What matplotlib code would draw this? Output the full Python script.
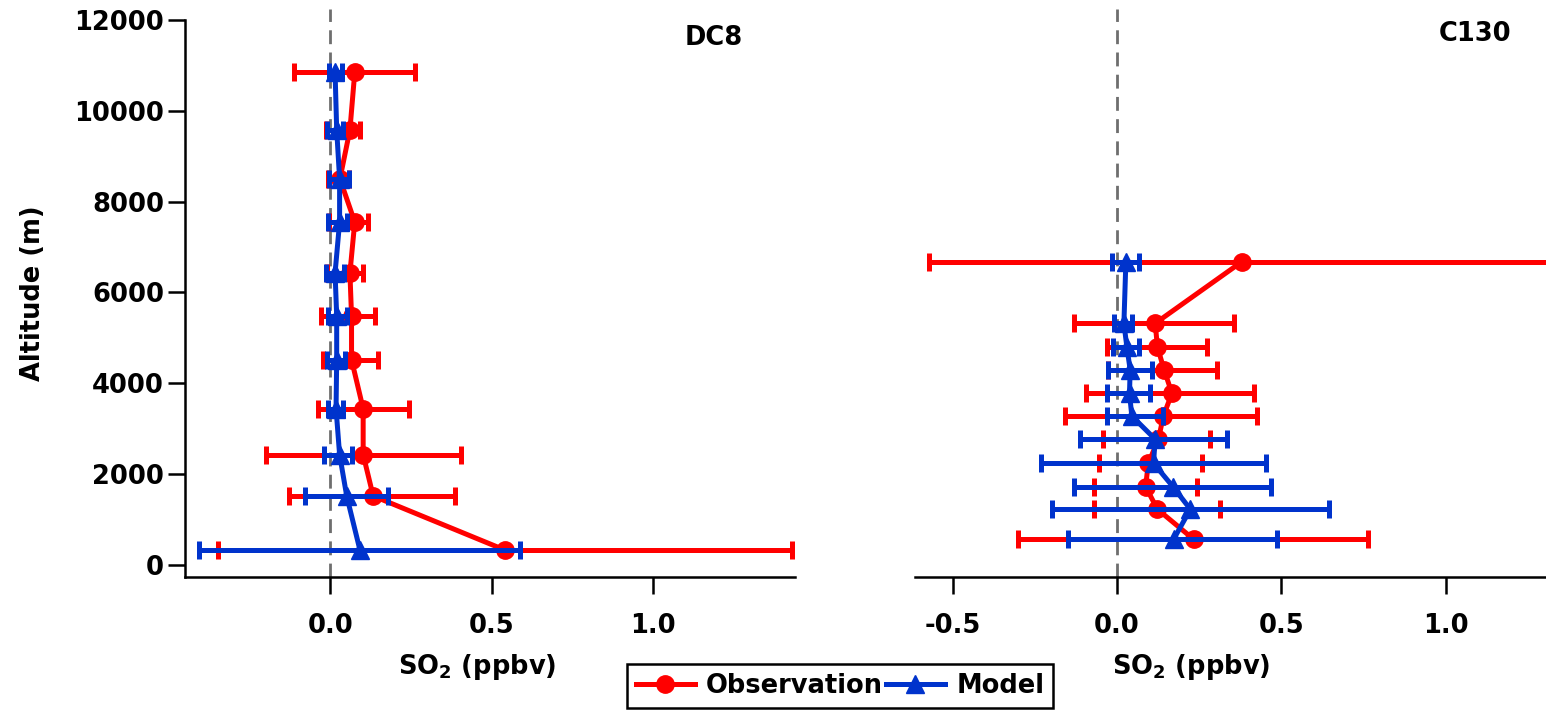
import numpy as np
import matplotlib
matplotlib.use("Agg")
import matplotlib.pyplot as plt

# --- Data -----------------------------------------------------------------

# DC8 profile
dc8_alt = [10850, 9580, 8500, 7550, 6430, 5480, 4520, 3440, 2430, 1520, 330]
dc8_obs = [0.076, 0.061, 0.030, 0.076, 0.061, 0.066, 0.066, 0.102, 0.102, 0.133, 0.541]
dc8_obs_lo = [-0.112, -0.013, -0.006, -0.005, -0.010, -0.030, -0.022, -0.039, -0.200, -0.127, -0.349]
dc8_obs_hi = [0.263, 0.092, 0.058, 0.117, 0.100, 0.138, 0.148, 0.243, 0.405, 0.387, 1.432]
dc8_mod = [0.015, 0.020, 0.029, 0.029, 0.015, 0.020, 0.020, 0.018, 0.029, 0.051, 0.092]
dc8_mod_lo = [-0.003, -0.010, -0.005, -0.007, -0.013, -0.007, -0.010, -0.007, -0.018, -0.078, -0.406]
dc8_mod_hi = [0.036, 0.041, 0.058, 0.051, 0.044, 0.051, 0.046, 0.041, 0.066, 0.180, 0.587]

# C130 profile
c130_alt = [6680, 5320, 4800, 4300, 3780, 3280, 2770, 2240, 1725, 1227, 566]
c130_obs = [0.380, 0.116, 0.123, 0.143, 0.167, 0.141, 0.126, 0.095, 0.087, 0.123, 0.233]
c130_obs_lo = [-0.570, -0.130, -0.031, -0.026, -0.093, -0.159, -0.044, -0.054, -0.069, -0.069, -0.301]
c130_obs_hi = [1.600, 0.355, 0.273, 0.304, 0.416, 0.427, 0.284, 0.258, 0.243, 0.314, 0.762]
c130_mod = [0.027, 0.021, 0.030, 0.040, 0.038, 0.045, 0.116, 0.111, 0.170, 0.223, 0.172]
c130_mod_lo = [-0.016, -0.009, -0.011, -0.026, -0.031, -0.031, -0.113, -0.230, -0.131, -0.199, -0.148]
c130_mod_hi = [0.068, 0.047, 0.068, 0.105, 0.100, 0.141, 0.334, 0.453, 0.468, 0.645, 0.487]

alt_ticks = [0, 2000, 4000, 6000, 8000, 10000, 12000]

# --- Style ----------------------------------------------------------------

RED = "#ff0000"
BLUE = "#0033cc"
LW = 3.6

plt.rcParams["font.family"] = ["DejaVu Sans"]
plt.rcParams["font.weight"] = "bold"
plt.rcParams["axes.labelweight"] = "bold"
plt.rcParams["font.size"] = 18.5
plt.rcParams["mathtext.default"] = "bf"

W, H = 1546, 713
fig = plt.figure(figsize=(W / 100, H / 100), dpi=100)

bottom = 1 - 577 / H
height = (577 - 8.6) / H
ax1 = fig.add_axes([185 / W, bottom, (795 - 185) / W, height])
ax2 = fig.add_axes([915 / W, bottom, (W - 915) / W, height])


def profile(ax, alt, obs, obs_lo, obs_hi, mod, mod_lo, mod_hi):
    alt = np.array(alt)
    obs, mod = np.array(obs), np.array(mod)
    ax.axvline(0, color="#6e6e6e", ls=(0, (5, 3)), lw=2.0, zorder=1)
    ax.errorbar(obs, alt, xerr=[obs - np.array(obs_lo), np.array(obs_hi) - obs],
                fmt="none", ecolor=RED, elinewidth=LW, capsize=6.5, capthick=LW, zorder=2)
    h_obs, = ax.plot(obs, alt, color=RED, lw=LW, marker="o", ms=12.5, zorder=3)
    ax.errorbar(mod, alt, xerr=[mod - np.array(mod_lo), np.array(mod_hi) - mod],
                fmt="none", ecolor=BLUE, elinewidth=LW, capsize=6.5, capthick=LW, zorder=4)
    h_mod, = ax.plot(mod, alt, color=BLUE, lw=LW, marker="^", ms=12.5, zorder=5)
    return h_obs, h_mod


h_obs, h_mod = profile(ax1, dc8_alt, dc8_obs, dc8_obs_lo, dc8_obs_hi,
                       dc8_mod, dc8_mod_lo, dc8_mod_hi)
profile(ax2, c130_alt, c130_obs, c130_obs_lo, c130_obs_hi,
        c130_mod, c130_mod_lo, c130_mod_hi)

for ax in (ax1, ax2):
    ax.set_ylim(-264, 12250)
    for s in ("top", "right"):
        ax.spines[s].set_visible(False)
    for s in ("left", "bottom"):
        ax.spines[s].set_linewidth(1.8)
    ax.tick_params(axis="x", direction="out", length=12, width=1.8, pad=14)
    ax.tick_params(axis="y", direction="out", length=12, width=1.8, pad=3)
    ax.set_xlabel("SO$_2$ (ppbv)")

ax1.set_xlim(-0.45, 1.44)
ax1.set_xticks([0.0, 0.5, 1.0])
ax1.set_xticklabels(["0.0", "0.5", "1.0"])
ax1.set_yticks(alt_ticks)
ax1.spines["left"].set_bounds(-264, 12000)
ax1.set_ylabel("Altitude (m)")
ax1.yaxis.set_label_coords(-0.228, 0.5)
ax1.xaxis.set_label_coords(0.479, -0.132)
ax1.text(0.866, 0.948, "DC8", transform=ax1.transAxes, ha="center", va="center")

ax2.set_xlim(-0.614, 1.304)
ax2.set_xticks([-0.5, 0.0, 0.5, 1.0])
ax2.set_xticklabels(["-0.5", "0.0", "0.5", "1.0"])
ax2.spines["left"].set_visible(False)
ax2.set_yticks([])
ax2.xaxis.set_label_coords(0.437, -0.132)
ax2.text(0.8875, 0.955, "C130", transform=ax2.transAxes, ha="center", va="center")

leg = fig.legend([h_obs, h_mod], ["Observation", "Model"], loc="center",
                 bbox_to_anchor=(840 / W, 1 - 686 / H), ncol=2, frameon=True,
                 fancybox=False, edgecolor="black", framealpha=1, borderpad=0.35,
                 handlelength=2.3, handletextpad=0.45, columnspacing=0.1,
                 borderaxespad=0)
leg.get_frame().set_linewidth(1.8)

fig.savefig("out.png", dpi=100)
